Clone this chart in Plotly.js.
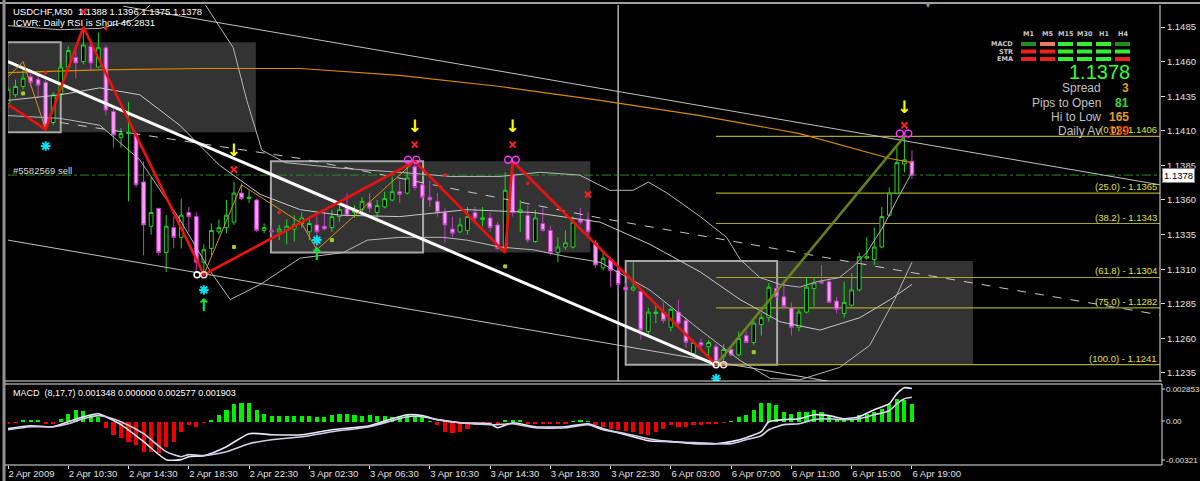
<!DOCTYPE html>
<html><head><meta charset="utf-8">
<script src="https://cdn.plot.ly/plotly-3.0.1.min.js"></script>
<style>html,body{margin:0;padding:0;background:#000;}#chart{width:1200px;height:481px;}</style>
</head><body><div id="chart"></div>
<script>
// ---------------- DATA ----------------
const symbolTitle = "USDCHF,M30  1.1388 1.1396 1.1375 1.1378";
const rsiTitle = "ICWR: Daily RSI is Short 46.2831";
const macdTitle = "MACD  (8,17,7) 0.001348 0.000000 0.002577 0.001903";
const tickIdx = [0,8,16,24,32,40,48,56,64,72,80,88,96,104,112,120];
const tickLabels = ["2 Apr 2009","2 Apr 10:30","2 Apr 14:30","2 Apr 18:30","2 Apr 22:30","3 Apr 02:30","3 Apr 06:30","3 Apr 10:30","3 Apr 14:30","3 Apr 18:30","3 Apr 22:30","6 Apr 03:00","6 Apr 07:00","6 Apr 11:00","6 Apr 15:00","6 Apr 19:00"];
const priceTicks = [1.1235,1.1260,1.1285,1.1310,1.1335,1.1360,1.1385,1.1410,1.1435,1.1460,1.1485];
const lastPrice = 1.1378;

const open = [1.1430,1.1436,1.1442,1.1449,1.1447,1.1445,1.1416,1.1437,1.1456,1.1463,
1.1460,1.1471,1.1456,1.1470,1.1424,1.1405,1.1408,1.1408,1.1373,1.1341,
1.1354,1.1322,1.1340,1.1333,1.1351,1.1348,1.1315,1.1325,1.1337,1.1340,
1.1344,1.1365,1.1361,1.1360,1.1338,1.1338,1.1337,1.1338,1.1339,1.1343,
1.1337,1.1342,1.1341,1.1340,1.1348,1.1354,1.1351,1.1353,1.1358,1.1351,
1.1355,1.1360,1.1366,1.1365,1.1384,1.1371,1.1362,1.1359,1.1351,1.1339,
1.1337,1.1338,1.1351,1.1346,1.1347,1.1342,1.1325,1.1378,1.1351,1.1349,
1.1330,1.1343,1.1338,1.1322,1.1326,1.1326,1.1346,1.1346,1.1329,1.1311,
1.1317,1.1309,1.1297,1.1295,1.1294,1.1265,1.1278,1.1279,1.1268,1.1279,
1.1273,1.1249,1.1257,1.1254,1.1254,1.1247,1.1252,1.1248,1.1262,1.1257,
1.1270,1.1275,1.1296,1.1290,1.1282,1.1268,1.1279,1.1296,1.1301,1.1301,
1.1287,1.1278,1.1284,1.1295,1.1318,1.1317,1.1326,1.1349,1.1365,1.1386,
1.1388];
const high = [1.1442,1.1447,1.1454,1.1452,1.1450,1.1447,1.1438,1.1459,1.1471,1.1471,
1.1485,1.1473,1.1481,1.1472,1.1426,1.1412,1.1431,1.1409,1.1388,1.1376,
1.1354,1.1349,1.1348,1.1361,1.1355,1.1351,1.1328,1.1343,1.1346,1.1360,
1.1373,1.1372,1.1367,1.1361,1.1343,1.1341,1.1342,1.1346,1.1349,1.1351,
1.1348,1.1348,1.1351,1.1353,1.1356,1.1365,1.1356,1.1362,1.1365,1.1360,
1.1366,1.1377,1.1374,1.1384,1.1388,1.1373,1.1374,1.1365,1.1354,1.1348,
1.1347,1.1355,1.1355,1.1355,1.1351,1.1344,1.1380,1.1388,1.1360,1.1356,
1.1353,1.1355,1.1341,1.1333,1.1338,1.1348,1.1354,1.1351,1.1331,1.1322,
1.1319,1.1311,1.1300,1.1315,1.1295,1.1282,1.1284,1.1286,1.1282,1.1288,
1.1275,1.1259,1.1260,1.1259,1.1256,1.1256,1.1254,1.1265,1.1265,1.1273,
1.1278,1.1300,1.1300,1.1300,1.1286,1.1281,1.1304,1.1304,1.1313,1.1304,
1.1290,1.1301,1.1307,1.1322,1.1333,1.1340,1.1355,1.1369,1.1398,1.1406,
1.1396];
const low = [1.1427,1.1434,1.1440,1.1442,1.1434,1.1411,1.1414,1.1434,1.1454,1.1448,
1.1458,1.1454,1.1455,1.1421,1.1398,1.1398,1.1359,1.1369,1.1320,1.1335,
1.1320,1.1308,1.1325,1.1325,1.1337,1.1308,1.1306,1.1320,1.1335,1.1336,
1.1342,1.1360,1.1358,1.1337,1.1336,1.1335,1.1331,1.1328,1.1330,1.1340,
1.1331,1.1325,1.1338,1.1337,1.1344,1.1348,1.1347,1.1351,1.1351,1.1344,
1.1354,1.1359,1.1358,1.1364,1.1367,1.1360,1.1355,1.1348,1.1329,1.1333,
1.1336,1.1335,1.1344,1.1341,1.1337,1.1324,1.1322,1.1348,1.1337,1.1329,
1.1329,1.1337,1.1320,1.1315,1.1324,1.1325,1.1342,1.1333,1.1311,1.1309,
1.1297,1.1295,1.1294,1.1294,1.1259,1.1262,1.1271,1.1271,1.1265,1.1268,
1.1253,1.1248,1.1252,1.1246,1.1241,1.1242,1.1247,1.1247,1.1257,1.1255,
1.1262,1.1272,1.1289,1.1281,1.1262,1.1265,1.1278,1.1283,1.1299,1.1286,
1.1278,1.1275,1.1283,1.1294,1.1317,1.1313,1.1325,1.1348,1.1364,1.1380,
1.1375];
const close = [1.1440,1.1442,1.1448,1.1445,1.1443,1.1414,1.1436,1.1456,1.1468,1.1459,
1.1472,1.1459,1.1470,1.1425,1.1407,1.1408,1.1409,1.1371,1.1342,1.1351,
1.1322,1.1341,1.1333,1.1349,1.1348,1.1315,1.1324,1.1338,1.1340,1.1349,
1.1365,1.1361,1.1362,1.1338,1.1340,1.1337,1.1339,1.1341,1.1342,1.1347,
1.1343,1.1337,1.1339,1.1348,1.1353,1.1349,1.1352,1.1359,1.1354,1.1356,
1.1361,1.1366,1.1364,1.1376,1.1369,1.1362,1.1360,1.1351,1.1342,1.1336,
1.1342,1.1348,1.1347,1.1347,1.1340,1.1325,1.1367,1.1351,1.1353,1.1331,
1.1347,1.1338,1.1322,1.1326,1.1329,1.1344,1.1344,1.1337,1.1313,1.1318,
1.1309,1.1299,1.1295,1.1297,1.1266,1.1279,1.1279,1.1273,1.1281,1.1271,
1.1257,1.1257,1.1255,1.1257,1.1243,1.1252,1.1248,1.1260,1.1257,1.1271,
1.1275,1.1297,1.1290,1.1283,1.1268,1.1279,1.1297,1.1300,1.1300,1.1286,
1.1281,1.1286,1.1295,1.1319,1.1319,1.1326,1.1348,1.1365,1.1387,1.1389,
1.1378];

// Bollinger-style envelope lines (bar index, price)
const bandUpperX = [0,6.9,12.2,16.6,18.9,null,26.2,29.9,31.7,33.7,36.8,44.1,52,58.7,65.3,70.6,75.9,79.9,83,85,87.5,91.9,95.4,97.2,99.8,102.5,105.1,107.4,110.4,112.2,114,116.2,118,120];
const bandUpperY = [1.1486,1.1483,1.1484,1.1490,1.1501,null,1.1501,1.1470,1.1432,1.1396,1.1387,1.1383,1.1380,1.1377,1.1377,1.1380,1.1378,1.1367,1.1367,1.1373,1.1365,1.1348,1.1333,1.1317,1.1304,1.1299,1.1297,1.1301,1.1304,1.1312,1.1322,1.1341,1.1360,1.1380];
const bandMidX = [0,6.9,12.2,17.5,22.8,28.1,33.5,38.8,44.1,52,60.9,69.7,78.6,85.2,91.9,97.2,102.5,107.8,113.1,117.1,120];
const bandMidY = [1.1432,1.1436,1.1441,1.1436,1.1414,1.1385,1.1364,1.1353,1.1349,1.1348,1.1353,1.1351,1.1344,1.1328,1.1308,1.1288,1.1272,1.1266,1.1275,1.1288,1.1299];
const bandLowerX = [0,6.9,12.2,17.5,22.8,26.8,29.5,33.5,38.8,44.5,47.7,52,57.7,60.9,65.3,69.7,74.2,78.6,85.2,91.9,97.2,101.2,105.1,110.4,114.4,117.7,120];
const bandLowerY = [1.1421,1.1419,1.1414,1.1389,1.1346,1.1309,1.1288,1.1299,1.1318,1.1322,1.1331,1.1333,1.1333,1.1331,1.1326,1.1324,1.1319,1.1315,1.1295,1.1266,1.1244,1.1231,1.1230,1.1239,1.1255,1.1288,1.1315];
// long moving average (orange) and dashed average
const maSlowX = [0,12.2,25.5,38.8,52,65.3,78.6,91.9,105.1,117.1,120];
const maSlowY = [1.1452,1.1454,1.1455,1.1455,1.1450,1.1442,1.1432,1.1421,1.1408,1.1390,1.1387];
const dashedX = [6.9,38.8,78.6,118.4,152.9];
const dashedY = [1.1416,1.1390,1.1347,1.1309,1.1277];
// trend lines [x0, y0, x1, y1]
const mainTrend = [0,1.1460,93.9,1.1241];
const upperChannel = [15.3,1.1500,152.9,1.1371];
const lowerChannel = [0,1.1331,108.9,1.1229];
// zigzags
const zigX = [0,5,10,26,54,66,67,94];
const zigY = [1.1429,1.1411,1.1485,1.1306,1.1388,1.1322,1.1388,1.1241];
const zigUpX = [94,119];
const zigUpY = [1.1241,1.1406];
const zig2X = [0,2,5,10,26,31,39,41,54];
const zig2Y = [1.1449,1.1460,1.1411,1.1485,1.1306,1.1371,1.1343,1.1324,1.1388];
// range boxes
const boxStart = [-0.1,34.9,82.0];
const boxBorderEnd = [7.0,55.1,102.1];
const boxFillEnd = [32.9,77.3,128.1];
const boxTop = [1.1474,1.1388,1.1316];
const boxBottom = [1.1409,1.1322,1.1241];
const sessionLineIdx = 81;
// open order
const orderLabel = "#5582569 sell";
const orderPrice = 1.1378;
// fibonacci
const fibStart = 94;
const fibLevels = ["0.0","25.0","38.2","61.8","75.0","100.0"];
const fibPrices = [1.1406,1.1365,1.1343,1.1304,1.1282,1.1241];
// signal markers
const downArrowX = [30,54,67,119], downArrowY = [1.1395,1.1412,1.1412,1.1426];
const redCrossX = [30,54,67,119,10,77], redCrossY = [1.1382,1.1400,1.1400,1.1414,1.1496,1.1364];
const pinkRingX = [53.1,54.2,66.4,67.4,118.4,119.5], pinkRingY = [1.1389,1.1389,1.1389,1.1389,1.1408,1.1408];
const cyanStarX = [5,26,41,94], cyanStarY = [1.1399,1.1295,1.1331,1.1231];
const upArrowX = [26,41], upArrowY = [1.1283,1.1320];
const whiteRingX = [25.1,94], whiteRingY = [1.1306,1.1241];
const lightRingX = [26,95], lightRingY = [1.1306,1.1241];
const greenDotX = [2,30,43,66,99], greenDotY = [1.1437,1.1326,1.1331,1.1312,1.1250];
const redDotX = [5,13,36,58,69], redDotY = [1.1452,1.1484,1.1351,1.1378,1.1372];
// MACD
const macdHist = [-0.00016,-0.00008,0.00016,0.00016,0.00016,-0.00016,-0.00016,0.00023,0.00062,0.00093,
 0.00085,0.00054,0.00039,-0.00047,-0.00101,-0.00124,-0.00155,-0.00179,-0.00233,-0.00233,
 -0.00241,-0.00194,-0.00155,-0.00078,-0.00023,-0.00039,-0.00008,0.00016,0.00054,0.00093,
 0.0014,0.00148,0.00148,0.00093,0.00062,0.00047,0.00047,0.00047,0.00047,0.00047,
 0.00047,0.00039,0.00039,0.00054,0.00062,0.00062,0.00054,0.00047,0.00054,0.00047,
 0.00047,0.00039,0.00047,0.00054,0.00047,0.00039,0.00008,-0.00023,-0.00078,-0.00085,
 -0.00078,-0.00054,-0.00023,-0.00016,-0.00016,-0.00016,0.00016,0.00016,0.00016,-0.00016,
 -0.00016,-0.00016,-0.00016,-0.00016,-0.00016,0.00008,0.00016,0.00008,-0.00023,-0.00039,
 -0.00054,-0.00062,-0.0007,-0.00078,-0.00093,-0.00101,-0.00078,-0.00054,-0.00023,-0.00039,
 -0.00039,-0.00023,-0.00023,-0.00016,-0.00016,-0.00008,0.00008,0.00039,0.00054,0.00093,
 0.00148,0.00148,0.00132,0.00078,0.00062,0.00078,0.00078,0.00093,0.00078,0.00054,
 0.00023,0.00016,0.00016,0.00054,0.00062,0.00078,0.00101,0.0014,0.00179,0.00171,
 0.001348];
const macdLineX = [0,3,6,8,10,12,13,15,18,21,23,24,26,29,32,35,39,43,48,51,53,55,57,60,64,65,67,70,74,77,79,82,85,88,91,94,96,98,100,101,103,105,107,109,111,113,115,117,118,119,120];
const macdMain = [-0.00054,-0.00031,-0.00039,0,0.00039,0.00062,0.00039,-0.00023,-0.00155,-0.00295,-0.00295,-0.00272,-0.00264,-0.00194,-0.00093,-0.00101,-0.00101,-0.00062,-0.00031,0.00023,0.00054,0.00047,0.00016,-0.00008,-0.00016,-0.00047,-0.00008,-0.00039,-0.00039,-0.00016,-0.00054,-0.00101,-0.00148,-0.00155,-0.00171,-0.00171,-0.00155,-0.00124,-0.00078,0,0.00016,0.00023,0.00054,0.00047,0.00023,0.00039,0.00093,0.0014,0.00218,0.00264,0.002577];
const macdSignal = [-0.00062,-0.00039,-0.00039,-0.00016,0.00023,0.00047,0.00039,0,-0.00093,-0.00233,-0.00272,-0.00256,-0.00264,-0.00233,-0.00171,-0.0014,-0.00117,-0.00078,-0.00039,0.00008,0.00039,0.00039,0.00016,-0.00008,-0.00023,-0.00023,-0.00016,-0.00047,-0.00047,-0.00023,-0.00062,-0.00093,-0.00132,-0.00155,-0.00163,-0.00171,-0.00171,-0.0014,-0.00109,-0.00062,-0.00023,-0.00016,0.00016,0.00023,0.00016,0.00023,0.00054,0.00085,0.0014,0.00179,0.001903];
const macdMax = 0.002853, macdMin = -0.00321;
// dashboard
const dashTimeframes = ["M1","M5","M15","M30","H1","H4"];
const dashRows = ["MACD","STR","EMA"];
const dashStates = [["weakUp","weakDown","up","up","up","weakUp"],["down","down","up","up","up","up"],["down","down","up","up","up","down"]];
const infoLabels = ["Spread","Pips to Open","Hi to Low","Daily Av"];
const infoValues = ["3","81","165","139"];

// ---------------- LAYOUT HELPERS ----------------
const L = 8, R = 40, T = 5, B = 16, W = 1200, H = 481;
const PW = W - L - R, PH = H - T - B;
const px = x => (x - L) / PW;
const py = y => 1 - (y - T) / PH;
const xMax = 152.93;
const FONT = "Liberation Sans, Arial, sans-serif";
const bars = open.map((_, i) => i);

const traces = [];
const line = (x, y, color, width, dash, extra) => Object.assign({type:'scatter', mode:'lines', x, y, xaxis:'x', yaxis:'y', line:{color, width, dash:dash||'solid'}, hoverinfo:'skip', showlegend:false, connectgaps:false}, extra||{});
traces.push(line(bandUpperX, bandUpperY, '#b8b8b8', 1));
traces.push(line(bandMidX, bandMidY, '#c8c8c8', 1));
traces.push(line(bandLowerX, bandLowerY, '#b8b8b8', 1));
traces.push(line(dashedX, dashedY, '#c8c8c8', 1, 'dash'));
traces.push(line(maSlowX, maSlowY, '#d88a00', 1.2));
traces.push(line([upperChannel[0], upperChannel[2]], [upperChannel[1], upperChannel[3]], '#c0c0c0', 1));
traces.push(line([lowerChannel[0], lowerChannel[2]], [lowerChannel[1], lowerChannel[3]], '#c0c0c0', 1));
traces.push({type:'candlestick', x:bars, open, high, low, close, xaxis:'x', yaxis:'y',
  increasing:{line:{color:'#1ed81e', width:1}, fillcolor:'#000000'},
  decreasing:{line:{color:'#c43cc4', width:1}, fillcolor:'#ff9cff'},
  whiskerwidth:0, hoverinfo:'skip', showlegend:false});
traces.push(line([mainTrend[0], mainTrend[2]], [mainTrend[1], mainTrend[3]], '#ffffff', 3));
traces.push(line(zig2X, zig2Y, '#d89020', 1));
traces.push(line(zigX, zigY, '#f01010', 2.6));
traces.push(line(zigUpX, zigUpY, 'rgba(110,140,30,0.9)', 2.6));
const mk = (x, y, symbol, color, size, lw, extra) => Object.assign({type:'scatter', mode:'markers', x, y, xaxis:'x', yaxis:'y', hoverinfo:'skip', showlegend:false, marker:{symbol, color, size, line:{color, width:lw||1}}}, extra||{});
traces.push(mk(redCrossX, redCrossY, 'x-thin-open', '#ff2020', 6, 2));
traces.push(mk(pinkRingX, pinkRingY, 'circle-open', '#ff30ff', 7, 1.5));
traces.push(mk(cyanStarX, cyanStarY, 'asterisk-open', '#00e0f0', 8, 2));
traces.push(mk(whiteRingX, whiteRingY, 'circle-open', '#ffffff', 6, 1.5));
traces.push(mk(lightRingX, lightRingY, 'circle-open', '#ffd0d0', 6, 1.5));
traces.push(mk(greenDotX, greenDotY, 'square', '#a0d020', 3, 0));
traces.push(mk(redDotX, redDotY, 'circle', '#e02020', 3, 0));
traces.push({type:'scatter', mode:'text', x:downArrowX, y:downArrowY, text:downArrowX.map(()=>'↓'), textfont:{color:'#ffff00', size:17, family:'DejaVu Sans', weight:'bold'}, xaxis:'x', yaxis:'y', hoverinfo:'skip', showlegend:false});
traces.push({type:'scatter', mode:'text', x:upArrowX, y:upArrowY, text:upArrowX.map(()=>'↑'), textfont:{color:'#10e030', size:17, family:'DejaVu Sans', weight:'bold'}, xaxis:'x', yaxis:'y', hoverinfo:'skip', showlegend:false});
// MACD panel
traces.push({type:'bar', x:bars, y:macdHist, xaxis:'x', yaxis:'y2', width:0.55, marker:{color:macdHist.map(v => v >= 0 ? '#00f000' : '#f00000'), line:{width:0}}, hoverinfo:'skip', showlegend:false});
traces.push({type:'scatter', mode:'lines', x:macdLineX, y:macdMain, xaxis:'x', yaxis:'y2', line:{color:'#e8e8ff', width:1.6, shape:'spline', smoothing:0.6}, hoverinfo:'skip', showlegend:false});
traces.push({type:'scatter', mode:'lines', x:macdLineX, y:macdSignal, xaxis:'x', yaxis:'y2', line:{color:'#d0d0e8', width:1.6, shape:'spline', smoothing:0.6}, hoverinfo:'skip', showlegend:false});

// ---------------- SHAPES ----------------
const shapes = [];
for (let k = 0; k < boxStart.length; k++) {
  shapes.push({type:'rect', xref:'x', yref:'y', x0:boxStart[k], x1:boxFillEnd[k], y0:boxBottom[k], y1:boxTop[k], fillcolor:'#333333', line:{width:0}, layer:'below'});
  shapes.push({type:'rect', xref:'x', yref:'y', x0:boxStart[k], x1:boxBorderEnd[k], y0:boxBottom[k], y1:boxTop[k], fillcolor:'rgba(0,0,0,0)', line:{color:'#a8a8a8', width:2}, layer:'below'});
}
shapes.push({type:'line', xref:'x', yref:'y', x0:sessionLineIdx, x1:sessionLineIdx, y0:1.12292, y1:1.15009, line:{color:'#b0b0b0', width:1.5}, layer:'below'});
shapes.push({type:'line', xref:'x', yref:'y', x0:0, x1:xMax, y0:orderPrice, y1:orderPrice, line:{color:'#2a8a2a', width:1, dash:'dashdot'}, layer:'below'});
fibPrices.forEach(p => shapes.push({type:'line', xref:'x', yref:'y', x0:fibStart, x1:xMax, y0:p, y1:p, line:{color:'#a8a824', width:1.2}, layer:'below'}));
// frame
const frame = (x0,y0,x1,y1,color,w) => shapes.push({type:'line', xref:'paper', yref:'paper', x0:px(x0), x1:px(x1), y0:py(y0), y1:py(y1), line:{color, width:w}});
frame(0,3,1200,3,'#a0a0a0',2);
frame(4,0,4,481,'#909090',3);
frame(1160,5,1160,381,'#e0e0e0',1);
frame(1162,384,1162,465,'#e0e0e0',1);
frame(5,381,1162,381,'#e8e8e8',1);
frame(5,384,1162,384,'#e8e8e8',1);
frame(5,465,1162,465,'#e8e8e8',1);
// dashboard blocks
const stateColor = {up:'#33ee33', weakUp:'#1f8f1f', down:'#ee2020', weakDown:'#ee7766'};
const dashX = [1021,1040,1058,1077,1096,1115];
const dashY = [42,49.5,57];
dashStates.forEach((row, r) => row.forEach((s, c) => shapes.push({type:'rect', xref:'paper', yref:'paper', x0:px(dashX[c]), x1:px(dashX[c]+15), y0:py(dashY[r]+4), y1:py(dashY[r]), fillcolor:stateColor[s], line:{width:0}})));

// ---------------- ANNOTATIONS ----------------
const ann = [];
const txt = (text, x, y, size, color, anchor, extra) => ann.push(Object.assign({text, xref:'paper', yref:'paper', x:px(x), y:py(y), xanchor:anchor||'left', yanchor:'middle', showarrow:false, font:{family:FONT, size, color}}, extra||{}));
txt(symbolTitle, 11, 11, 9.5, '#ffffff');
txt(rsiTitle, 11, 22, 9.5, '#ffffff');
txt(orderLabel, 11, 170, 9.5, '#d8d8d8');
txt(macdTitle, 11, 393, 9, '#ffffff');
txt('▼', 928, 6, 8, '#8a8a8a', 'center');
dashTimeframes.forEach((t, c) => txt(t, dashX[c]+7.5, 34, 7, '#c8c8c8', 'center', {font:{family:'DejaVu Sans', size:6.5, color:'#c8c8c8', weight:'bold'}}));
dashRows.forEach((t, r) => txt(t, 1015, dashY[r]+2, 7, '#c8c8c8', 'right', {font:{family:'DejaVu Sans', size:6.5, color:'#c8c8c8', weight:'bold'}}));
txt(lastPrice.toFixed(4), 1132, 72, 20, '#33ff33', 'right');
const infoColors = ['#e0a020','#33dd33','#e0a020','#ff4a10'];
const infoY = [88,103,117,131];
infoLabels.forEach((t, k) => { txt(t, 1103, infoY[k], 12, '#c0c0c0', 'right'); txt(infoValues[k], 1131, infoY[k], 12, infoColors[k], 'right', {font:{family:FONT, size:12, color:infoColors[k], weight:'bold'}}); });
fibLevels.forEach((lv, k) => ann.push({text:'(' + lv + ') - ' + fibPrices[k].toFixed(4), xref:'paper', yref:'y', x:px(1159), y:fibPrices[k], xanchor:'right', yanchor:'bottom', yshift:-1, showarrow:false, font:{family:FONT, size:9.5, color:'#e0e040'}}));
ann.push({text:lastPrice.toFixed(4), xref:'paper', yref:'y', x:px(1162), y:lastPrice, xanchor:'left', yanchor:'middle', showarrow:false, bgcolor:'#ffffff', bordercolor:'#808080', borderwidth:1, borderpad:1, font:{family:FONT, size:9.5, color:'#000000'}});
[[macdMax.toString(), 389],['0.00', 421],[macdMin.toString(), 460]].forEach(([t, y]) => txt(t, 1164, y, 8, '#e0e0e0'));
[[389],[421],[460]].forEach(([y]) => frame(1162, y, 1165, y, '#e0e0e0', 1));

const layout = {
  width:W, height:H, margin:{l:L, r:R, t:T, b:B}, paper_bgcolor:'#000000', plot_bgcolor:'#000000',
  showlegend:false, hovermode:false, dragmode:false, bargap:0,
  font:{family:FONT, color:'#e0e0e0', size:9},
  xaxis:{domain:[0,1], range:[0, xMax], anchor:'y2', rangeslider:{visible:false}, showgrid:false, zeroline:false, showline:false,
    tickmode:'array', tickvals:tickIdx, ticktext:tickLabels, ticks:'outside', ticklen:3, tickcolor:'#e0e0e0', tickwidth:1,
    ticklabelposition:'outside right', tickfont:{family:FONT, size:9.5, color:'#e0e0e0'}, fixedrange:true},
  yaxis:{domain:[84/PH, 1], range:[1.12292, 1.15009], side:'right', anchor:'x', showgrid:false, zeroline:false, showline:false,
    tickmode:'array', tickvals:priceTicks, ticktext:priceTicks.map(v => v.toFixed(4)), ticks:'outside', ticklen:4, tickcolor:'#e0e0e0',
    tickfont:{family:FONT, size:9.5, color:'#e0e0e0'}, fixedrange:true},
  yaxis2:{domain:[0, 80/PH], range:[-0.003366, 0.002853], side:'right', anchor:'x', showgrid:false, zeroline:false, showline:false, showticklabels:false, ticks:'', fixedrange:true},
  shapes, annotations:ann
};
Plotly.newPlot('chart', traces, layout, {displayModeBar:false, staticPlot:true});
</script></body></html>
